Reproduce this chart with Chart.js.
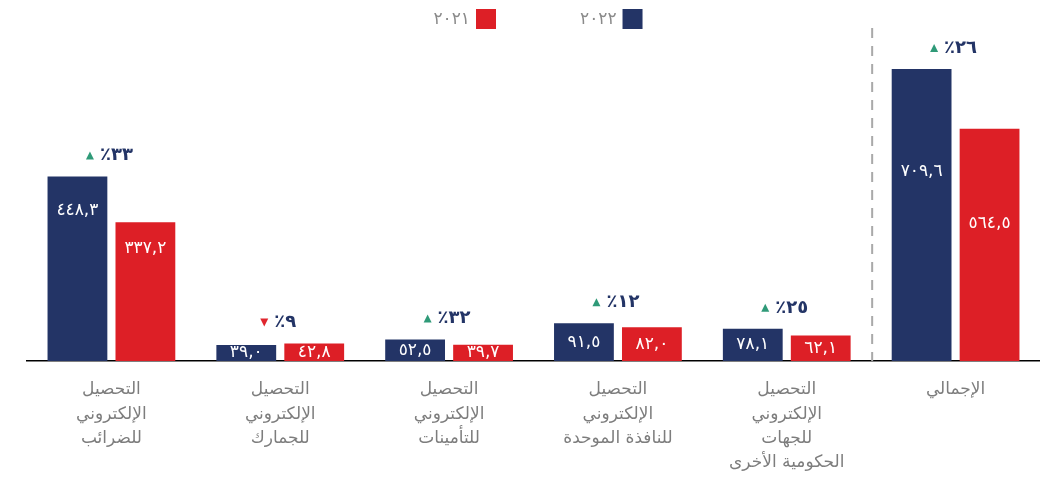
<!DOCTYPE html>
<html lang="ar">
<head>
<meta charset="utf-8">
<script src="https://cdn.jsdelivr.net/npm/chart.js"></script>
<style>
  html, body { margin: 0; padding: 0; background: #fff; }
  .container { width: 1040px; height: 477px; position: relative; }
</style>
</head>
<body>
<div class="container"><canvas id="myChart"></canvas></div>
<script>
// chart data
const categories = [
  ["التحصيل", "الإلكتروني", "للضرائب"],
  ["التحصيل", "الإلكتروني", "للجمارك"],
  ["التحصيل", "الإلكتروني", "للتأمينات"],
  ["التحصيل", "الإلكتروني", "للنافذة الموحدة"],
  ["التحصيل", "الإلكتروني", "للجهات", "الحكومية الأخرى"],
  ["الإجمالي"]
];
const seriesNames = ["٢٠٢٢", "٢٠٢١"];
const values2022 = [448.3, 39.0, 52.5, 91.5, 78.1, 709.6];
const values2021 = [337.2, 42.8, 39.7, 82.0, 62.1, 564.5];
const changePct = [33, -9, 32, 12, 25, 26];

const NAVY = "#233466";
const RED = "#dd1f26";
const FONT = "'DejaVu Sans', sans-serif";

// western digits -> eastern arabic digits, decimal point -> comma
function toArabicDigits(str) {
  return String(str).replace(/[0-9]/g, (d) => "٠١٢٣٤٥٦٧٨٩"[d]).replace(".", ",");
}

// vertical offset of the value label from the top of each bar (0 = centred)
const labelOffsets = [
  [34, 0, 0, 0, 0, 103],
  [26, 0, 0, 0, 0, 95]
];

// custom legend drawn at the top (rtl order: 2022 at right)
const legendPlugin = {
  id: "topLegend",
  afterDraw(chart) {
    const ctx = chart.ctx;
    ctx.save();
    ctx.font = "17px " + FONT;
    ctx.textBaseline = "middle";
    ctx.direction = "ltr";
    const box = 20, gap = 6, between = 84;
    const items = chart.data.datasets.map((ds) => ({
      text: ds.label,
      color: ds.backgroundColor,
      w: ctx.measureText(ds.label).width
    }));
    // reversed so that the first dataset is on the right
    const ordered = items.slice().reverse();
    const total = ordered.reduce((s, it) => s + it.w + gap + box, 0) + between * (ordered.length - 1);
    let x = 538 - total / 2;
    const y = 19;
    ordered.forEach((it) => {
      ctx.fillStyle = "#8a8a8a";
      ctx.textAlign = "left";
      ctx.fillText(it.text, x, y + 1);
      x += it.w + gap;
      ctx.fillStyle = it.color;
      ctx.fillRect(x, y - box / 2, box, box);
      x += box + between;
    });
    ctx.restore();
  }
};

// dashed separator before the total group
const separatorPlugin = {
  id: "separator",
  beforeDatasetsDraw(chart) {
    const ctx = chart.ctx;
    const xs = chart.scales.x;
    const n = chart.data.labels.length;
    const x = (xs.getPixelForValue(n - 2) + xs.getPixelForValue(n - 1)) / 2 + 1;
    ctx.save();
    ctx.strokeStyle = "#a9a9a9";
    ctx.lineWidth = 2;
    ctx.setLineDash([10, 8]);
    ctx.beginPath();
    ctx.moveTo(x, 28);
    ctx.lineTo(x, chart.chartArea.bottom);
    ctx.stroke();
    ctx.restore();
  }
};

// value labels inside bars and change labels above groups
const labelsPlugin = {
  id: "barLabels",
  afterDatasetsDraw(chart) {
    const ctx = chart.ctx;
    ctx.save();
    ctx.direction = "ltr";
    ctx.textAlign = "center";
    ctx.textBaseline = "middle";
    ctx.font = "17px " + FONT;
    ctx.fillStyle = "#ffffff";
    chart.data.datasets.forEach((ds, di) => {
      chart.getDatasetMeta(di).data.forEach((bar, i) => {
        const h = bar.base - bar.y;
        const off = labelOffsets[di][i] || h / 2;
        ctx.fillText(toArabicDigits(ds.data[i].toFixed(1)), bar.x, bar.y + off);
      });
    });

    const navyBars = chart.getDatasetMeta(0).data;
    const redBars = chart.getDatasetMeta(1).data;
    ctx.font = "bold 18px " + FONT;
    changePct.forEach((pct, i) => {
      const text = "٪" + toArabicDigits(Math.abs(pct));
      const tw = ctx.measureText(text).width;
      const tri = 8, gap = 6;
      const cx = (navyBars[i].x + redBars[i].x) / 2 - 2;
      const y = Math.min(navyBars[i].y, redBars[i].y) - 21;
      const start = cx - (tri + gap + tw) / 2;
      ctx.fillStyle = NAVY;
      ctx.textAlign = "left";
      ctx.fillText(text, start + tri + gap, y);
      ctx.beginPath();
      if (pct >= 0) {
        ctx.fillStyle = "#2f9a78";
        ctx.moveTo(start, y + 4);
        ctx.lineTo(start + tri, y + 4);
        ctx.lineTo(start + tri / 2, y - 4);
      } else {
        ctx.fillStyle = "#e0262e";
        ctx.moveTo(start, y - 4);
        ctx.lineTo(start + tri, y - 4);
        ctx.lineTo(start + tri / 2, y + 4);
      }
      ctx.closePath();
      ctx.fill();
    });
    ctx.restore();
  }
};

const ctx = document.getElementById("myChart");
new Chart(ctx, {
  type: "bar",
  data: {
    labels: categories,
    datasets: [
      { label: seriesNames[0], data: values2022, backgroundColor: NAVY },
      { label: seriesNames[1], data: values2021, backgroundColor: RED }
    ]
  },
  options: {
    responsive: true,
    maintainAspectRatio: false,
    animation: false,
    devicePixelRatio: 1,
    categoryPercentage: 0.805,
    barPercentage: 0.88,
    layout: { padding: { left: 27, right: 0, top: 40, bottom: 0 } },
    plugins: {
      legend: { display: false },
      tooltip: { enabled: false }
    },
    scales: {
      x: {
        grid: { display: false, drawTicks: false },
        border: { color: "#000000", width: 1.5 },
        ticks: {
          color: "#7d7d7d",
          font: { family: FONT, size: 17, lineHeight: 1.42 },
          padding: 17,
          maxRotation: 0,
          autoSkip: false
        },
        afterFit(scale) { scale.height = 116; }
      },
      y: { display: false, min: 0, max: 780 }
    }
  },
  plugins: [legendPlugin, separatorPlugin, labelsPlugin]
});
</script>
</body>
</html>
